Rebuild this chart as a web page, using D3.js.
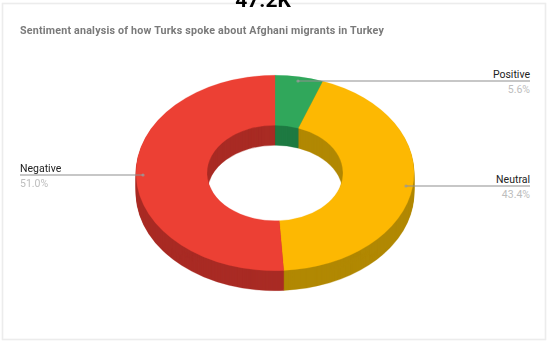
<!DOCTYPE html>
<html>
<head>
<meta charset="utf-8">
<script src="https://cdn.jsdelivr.net/npm/d3@7"></script>
<style>
html,body{margin:0;padding:0;background:#fff;overflow:hidden}
svg{display:block;filter:blur(0.45px)}
text{font-family:Roboto,"Liberation Sans",Arial,sans-serif}
</style>
</head>
<body>
<svg id="chart" width="549" height="341"></svg>
<script>
const headline = "47.2K";
const chartTitle = "Sentiment analysis of how Turks spoke about Afghani migrants in Turkey";
const categories = ["Positive", "Neutral", "Negative"];
const shares = [5.6, 43.4, 51.0];
const topColors = ["#30a75b", "#fdb802", "#ec4034"];
const sideColors = ["#1e7a42", "#b18803", "#a92b25"];

const W = 549, H = 341;
const cx = 275, cy = 173, rx = 139, ry = 97.7, holeRx = 68, depth = 20;
const squash = ry / rx;

const svg = d3.select("#chart");
svg.append("rect").attr("x", 2.5).attr("y", 3.5).attr("width", 543).attr("height", 336)
  .attr("fill", "#fff").attr("stroke", "#ececec").attr("stroke-width", 1.6);

const pie = d3.pie().sort(null).value(d => d);
const slices = pie(shares);
const arc = d3.arc().innerRadius(holeRx).outerRadius(rx);

// extruded body: dark annuli stacked from the bottom up
const body = svg.append("g");
d3.range(depth, 0, -1).forEach(off => {
  const g = body.append("g").attr("transform", `translate(${cx},${cy + off}) scale(1,${squash})`);
  g.selectAll("path").data(slices).join("path")
    .attr("d", arc).attr("fill", (d, i) => sideColors[i])
    .attr("stroke", (d, i) => sideColors[i]).attr("stroke-width", 0.4);
});

// top face
svg.append("g").attr("transform", `translate(${cx},${cy}) scale(1,${squash})`)
  .selectAll("path").data(slices).join("path")
  .attr("d", arc).attr("fill", (d, i) => topColors[i])
  .attr("stroke", (d, i) => topColors[i]).attr("stroke-width", 0.3);

// leader lines and labels: anchor y positions follow the reference
const labelLayout = [
  {x1: 298, x2: 530, y: 81, anchor: "end"},
  {x1: 406, x2: 530, y: 186, anchor: "end"},
  {x1: 143, x2: 20, y: 175, anchor: "start"}
];
const fmt = v => v.toFixed(1) + "%";
labelLayout.forEach((l, i) => {
  svg.append("line").attr("x1", l.x1).attr("x2", l.x2).attr("y1", l.y).attr("y2", l.y)
    .attr("stroke", "#8f8f8f").attr("stroke-width", 1);
  svg.append("circle").attr("cx", l.x1).attr("cy", l.y).attr("r", 1.6)
    .attr("fill", "#9a9a9a").attr("opacity", 0.8);
  svg.append("text").attr("x", l.x2).attr("y", l.y - 3.5).attr("text-anchor", l.anchor)
    .attr("font-size", 10.5).attr("fill", "#222").text(categories[i]);
  svg.append("text").attr("x", l.x2).attr("y", l.y + 11.5).attr("text-anchor", l.anchor)
    .attr("font-size", 10.5).attr("fill", "#bdbdbd").text(fmt(shares[i]));
});

svg.append("text").attr("x", 20).attr("y", 33.5).attr("font-size", 10.7).attr("font-weight", 700)
  .attr("letter-spacing", 0.2).attr("fill", "#7a7a7a").text(chartTitle);
svg.append("text").attr("x", 263).attr("y", 7).attr("text-anchor", "middle")
  .attr("font-size", 21).attr("font-weight", 700).attr("fill", "#000").text(headline);
</script>
</body>
</html>
